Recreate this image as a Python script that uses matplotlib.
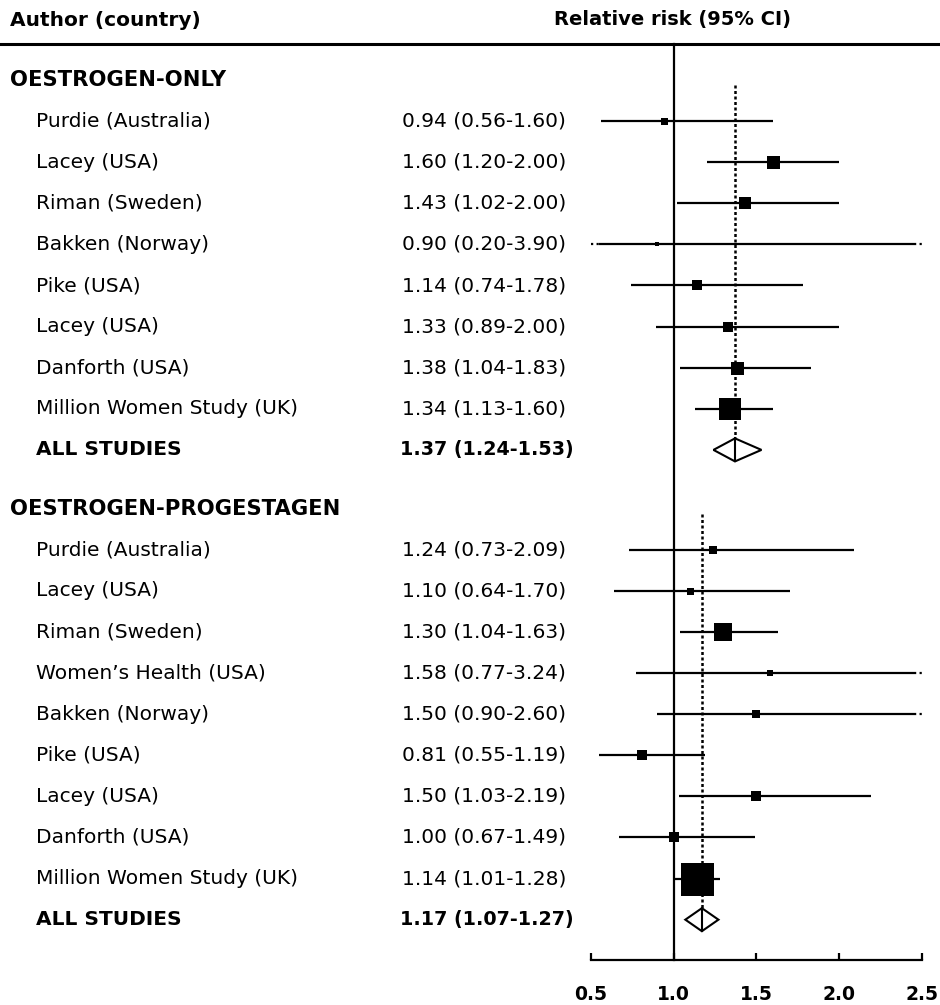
import matplotlib
matplotlib.use("Agg")
import matplotlib.pyplot as plt
from matplotlib.lines import Line2D
from matplotlib.patches import Polygon
import matplotlib.transforms as mtransforms

plt.rcParams['font.family'] = ['DejaVu Sans']

# ---------------- data ----------------
sec1_title = "OESTROGEN-ONLY"
sec1_names = ["Purdie (Australia)", "Lacey (USA)", "Riman (Sweden)", "Bakken (Norway)",
              "Pike (USA)", "Lacey (USA)", "Danforth (USA)", "Million Women Study (UK)"]
sec1_rr = [0.94, 1.60, 1.43, 0.90, 1.14, 1.33, 1.38, 1.34]
sec1_lo = [0.56, 1.20, 1.02, 0.20, 0.74, 0.89, 1.04, 1.13]
sec1_hi = [1.60, 2.00, 2.00, 3.90, 1.78, 2.00, 1.83, 1.60]
sec1_weight = [7, 13, 12, 5, 10, 10, 13, 23]
sec1_pooled = [1.37, 1.24, 1.53]

sec2_title = "OESTROGEN-PROGESTAGEN"
sec2_names = ["Purdie (Australia)", "Lacey (USA)", "Riman (Sweden)", "Women\u2019s Health (USA)",
              "Bakken (Norway)", "Pike (USA)", "Lacey (USA)", "Danforth (USA)",
              "Million Women Study (UK)"]
sec2_rr = [1.24, 1.10, 1.30, 1.58, 1.50, 0.81, 1.50, 1.00, 1.14]
sec2_lo = [0.73, 0.64, 1.04, 0.77, 0.90, 0.55, 1.03, 0.67, 1.01]
sec2_hi = [2.09, 1.70, 1.63, 3.24, 2.60, 1.19, 2.19, 1.49, 1.28]
sec2_weight = [8, 7, 18, 6, 8, 10, 10, 10, 33]
sec2_pooled = [1.17, 1.07, 1.27]

xticks = [0.5, 1.0, 1.5, 2.0, 2.5]
pooled_label = "ALL STUDIES"
col_left = "Author (country)"
col_right = "Relative risk (95% CI)"

# ---------------- layout ----------------
W, H = 940, 1005
fig = plt.figure(figsize=(W / 100, H / 100), dpi=100)
ROW0_PX, ROW_PX = 80.0, 41.1
AX_L, AX_R, AX_B = 591, 922, 960
ax = fig.add_axes([AX_L / W, 1 - AX_B / H, (AX_R - AX_L) / W, AX_B / H])
ax.set_xlim(xticks[0], xticks[-1])
ax.set_ylim((AX_B - ROW0_PX) / ROW_PX, (0 - ROW0_PX) / ROW_PX)

XMIN, XMAX = xticks[0], xticks[-1]
TAIL = 0.05
lw = 1.6
fs = 14.5
fs_head = 15.2
fs_num_bold = 13.8

trans = mtransforms.blended_transform_factory(fig.transFigure, ax.transData)


def fx(px):
    return px / W


def draw_section(start, title, names, rr, lo, hi, wts, pooled):
    ax.text(fx(10), start, title, transform=trans, fontsize=fs_head, fontweight='bold',
            va='center', ha='left')
    for i, (n, r, l, h, w) in enumerate(zip(names, rr, lo, hi, wts)):
        y = start + 1 + i
        ax.text(fx(36), y, n, transform=trans, fontsize=fs, va='center', ha='left')
        ax.text(fx(402), y, f"{r:.2f} ({l:.2f}-{h:.2f})", transform=trans,
                fontsize=fs, va='center', ha='left')
        a = XMIN + TAIL if l < XMIN else l
        b = XMAX - TAIL if h > XMAX else h
        ax.plot([a, b], [y, y], color='black', lw=lw, solid_capstyle='butt', zorder=3)
        if l < XMIN:
            ax.plot([XMIN, XMIN + TAIL], [y, y], color='black', lw=lw,
                    ls=(0, (1, 1.5)), zorder=3)
        if h > XMAX:
            ax.plot([XMAX - TAIL, XMAX], [y, y], color='black', lw=lw,
                    ls=(0, (1, 1.5)), zorder=3)
        ax.plot([r], [y], marker='s', color='black', markersize=w * 0.72,
                markeredgewidth=0, zorder=4)
    yp = start + 1 + len(names)
    ax.text(fx(36), yp, pooled_label, transform=trans, fontsize=fs, fontweight='bold',
            va='center', ha='left')
    pr, pl, ph = pooled
    ax.text(fx(400), yp, f"{pr:.2f} ({pl:.2f}-{ph:.2f})", transform=trans,
            fontsize=fs_num_bold, fontweight='bold', va='center', ha='left')
    dh = 0.28
    ax.add_patch(Polygon([[pl, yp], [pr, yp - dh], [ph, yp], [pr, yp + dh]],
                         closed=True, facecolor='white', edgecolor='black', lw=1.5,
                         zorder=5))
    ax.plot([pr, pr], [yp - dh, yp + dh], color='black', lw=1.5, zorder=6)
    # dotted pooled line
    ax.plot([pr, pr], [start + 0.12, yp - dh], color='black', lw=1.8,
            ls=(0, (1.2, 1.0)), zorder=2)
    return yp


end1 = draw_section(0, sec1_title, sec1_names, sec1_rr, sec1_lo, sec1_hi,
                    sec1_weight, sec1_pooled)
start2 = end1 + 1.43
draw_section(start2, sec2_title, sec2_names, sec2_rr, sec2_lo, sec2_hi,
             sec2_weight, sec2_pooled)

# null line at 1.0 from header rule down to axis
ytop = (44 - ROW0_PX) / ROW_PX
ax.plot([1.0, 1.0], [ytop, ax.get_ylim()[0]], color='black', lw=1.6, zorder=1,
        clip_on=False)

# header rule and column headers
fig.add_artist(Line2D([0, 1], [1 - 44 / H, 1 - 44 / H], color='black', lw=2.2,
                      transform=fig.transFigure))
fig.text(fx(10), 1 - 20 / H, col_left, fontsize=fs, fontweight='bold',
         va='center', ha='left')
fig.text(fx(673), 1 - 20 / H, col_right, fontsize=14.0, fontweight='bold',
         va='center', ha='center')

# axes styling
for s in ['top', 'left', 'right']:
    ax.spines[s].set_visible(False)
ax.spines['bottom'].set_linewidth(1.6)
ax.spines['bottom'].set_bounds(XMIN, XMAX)
ax.set_xticks(xticks)
ax.set_xticklabels([f"{t:.1f}" for t in xticks], fontweight='bold', fontsize=13.5)
ax.tick_params(axis='x', direction='in', length=5, width=1.6, pad=18)
ax.set_yticks([])
ax.patch.set_alpha(0)

fig.savefig("out.png", dpi=100)
